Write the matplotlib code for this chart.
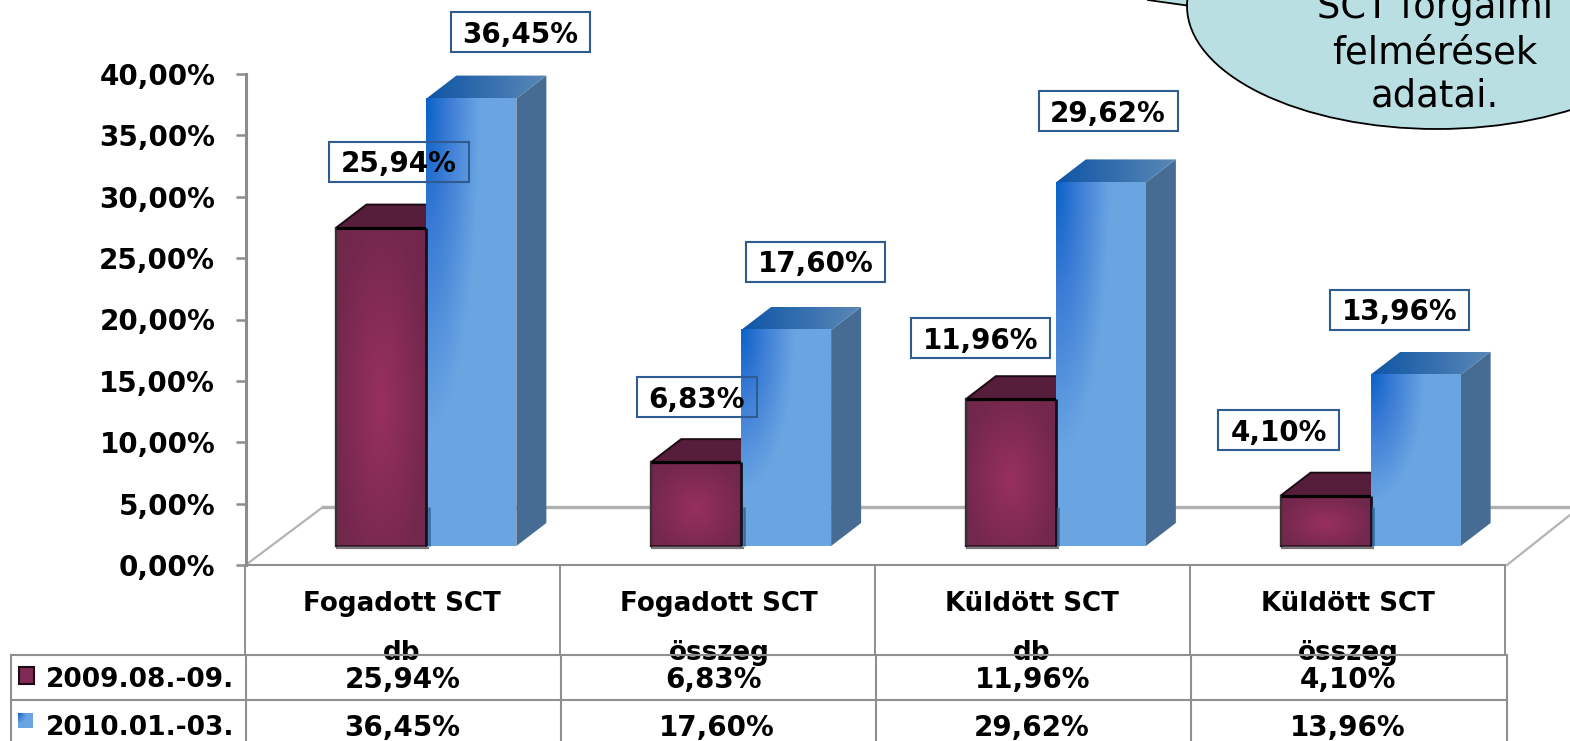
import numpy as np
import matplotlib
matplotlib.use('Agg')
import matplotlib.pyplot as plt
from matplotlib.colors import LinearSegmentedColormap
from matplotlib.patches import Ellipse, Polygon, Rectangle
from matplotlib.transforms import Affine2D

categories_top = ['Fogadott SCT', 'Fogadott SCT', 'Küldött SCT', 'Küldött SCT']
categories_bottom = ['db', 'összeg', 'db', 'összeg']
series_names = ['2009.08.-09.', '2010.01.-03.']
values_2009 = [25.94, 6.83, 11.96, 4.10]
values_2010 = [36.45, 17.60, 29.62, 13.96]
y_ticks = [0, 5, 10, 15, 20, 25, 30, 35, 40]
callout_lines = ['SCT forgalmi', 'felmérések', 'adatai.']

W, H = 1570, 741
FONT = 20

# label box centres, in picture pixels
boxes_2009 = [(399, 161.5), (697, 396.5), (980.5, 338), (1278.5, 430)]
boxes_2010 = [(520.5, 32), (815.5, 261.5), (1108, 111), (1399.5, 309.5)]
box_w_2009 = [140, 120, 139, 121]
box_w_2010 = [139, 139, 139, 139]

blue_front = LinearSegmentedColormap.from_list(
    'bf', [(0, '#0a62c8'), (0.4, '#3a7bd5'), (1, '#6aa5e2')])
blue_top = LinearSegmentedColormap.from_list('bt', ['#0f55a6', '#5a88b6'])
maroon_front = LinearSegmentedColormap.from_list('mf', ['#72274c', '#98305f'])


def fmt(v):
    return f'{v:.2f}%'.replace('.', ',')


def front_image(kind):
    n = 120
    u, v = np.meshgrid(np.linspace(0, 1, n), np.linspace(0, 1, n))
    if kind == 'blue':
        return blue_front, np.clip(np.sqrt((u / 0.6) ** 2 + (v / 0.75) ** 2), 0, 1)
    r = np.sqrt(((u - 0.5) / 0.55) ** 2 + ((v - 0.55) / 0.6) ** 2)
    return maroon_front, np.clip(1 - r, 0, 1)


def draw_bar(ax, left, value, width, kind, z):
    base, dx, dy = BASE, DX, DY
    top = base + value
    right = left + width
    # side
    ax.add_patch(Polygon([(right, base), (right + dx, base + dy),
                          (right + dx, top + dy), (right, top)],
                         fc='#466c94', ec='none', zorder=z))
    # top face
    if kind == 'blue':
        grad = np.linspace(0, 1, 100).reshape(1, -1)
        im = ax.imshow(grad, cmap=blue_top, extent=(left, right + dx, top, top + dy),
                       aspect='auto', zorder=z, origin='lower')
        clip = Polygon([(left, top), (left + dx, top + dy),
                        (right + dx, top + dy), (right, top)],
                       fc='none', ec='none', transform=ax.transData)
        ax.add_patch(clip)
        im.set_clip_path(clip)
    else:
        ax.add_patch(Polygon([(left, top), (left + dx, top + dy),
                              (right + dx, top + dy), (right, top)],
                             fc='#561e3b', ec='none', zorder=z))
        ax.plot([left, left + dx, right + dx], [top, top + dy, top + dy],
                color='#1c0a14', lw=1.4, zorder=z, solid_capstyle='butt')
    # front
    cm, arr = front_image(kind)
    ax.imshow(arr, cmap=cm, extent=(left, right, base, top), aspect='auto',
              zorder=z + 0.1, origin='upper', vmin=0, vmax=1)
    if kind == 'maroon':
        # grey shadow under the bar, then the uneven outline
        ax.plot([left, right + 3 * px_x], [base - 1.5 * px_y, base - 1.5 * px_y],
                color='#7a7a7a', lw=1.6, zorder=z + 0.2, solid_capstyle='butt')
        ax.plot([left, left], [base, top], color='#3a3034', lw=1.7, zorder=z + 0.2)
        ax.plot([left, right], [base, base], color='#2a1020', lw=1.2, zorder=z + 0.2)
        ax.plot([left, right], [top, top], color='black', lw=2.3, zorder=z + 0.3,
                solid_capstyle='butt')


fig = plt.figure(figsize=(W / 100, H / 100), dpi=100)
ax = fig.add_axes([246 / W, (H - 565) / H, 1259 / W, 491 / H])
ax.patch.set_alpha(0)

# depth of the fake 3D look, converted from pixels to data units
px_x = 4 / 1259
px_y = 40 / 491
BASE = 19 * px_y
DX = 30 * px_x
DY = 23 * px_y
bar_w = 90 * px_x
shift = -67 * px_x

# pixel coordinates of the picture, y going down
px = Affine2D().scale(1, -1).translate(0, H)

# floor and back wall
ax.plot([323, W], [506.5, 506.5], color='#b0b0b0', lw=2.4, transform=px, clip_on=False, zorder=1)
ax.plot([247, 323], [564, 507], color='#b4b4b4', lw=1.6, transform=px, clip_on=False, zorder=1)
ax.plot([1507, 1570], [565, 515], color='#b4b4b4', lw=1.6, transform=px, clip_on=False, zorder=1)

# white part of the label boxes sits behind the bars
for (cx, cy), bw in zip(boxes_2009, box_w_2009):
    ax.add_patch(Rectangle((cx - bw / 2, cy - 20), bw, 40, fc='white', ec='none',
                           transform=px, clip_on=False, zorder=1.5))

for i in range(len(values_2009)):
    left = i + shift
    draw_bar(ax, left, values_2009[i], bar_w, 'maroon', 2)
    draw_bar(ax, left + bar_w, values_2010[i], bar_w, 'blue', 3)
    # dark edge where the two bars meet, lighter low down
    edge = left + bar_w
    ax.plot([edge, edge], [BASE, BASE + values_2009[i]], color='#14101c', lw=2, zorder=3.3,
            solid_capstyle='butt')
    ax.plot([edge + 2.5 * px_x] * 2, [BASE, BASE + min(values_2009[i], 3.2)],
            color='#3a6a9e', lw=1.8, zorder=3.3, solid_capstyle='butt')

ax.set_xlim(-0.5, 3.5)
ax.set_ylim(0, 40)

for s in ['top', 'right']:
    ax.spines[s].set_visible(False)
ax.spines['left'].set_color('#8c8c8c')
ax.spines['left'].set_linewidth(2.2)
ax.spines['bottom'].set_color('#8f8f8f')
ax.spines['bottom'].set_linewidth(1.5)
ax.set_xticks([])
ax.set_yticks(y_ticks)
ax.set_yticklabels([fmt(t) for t in y_ticks], fontsize=FONT, fontweight='bold')
ax.tick_params(axis='y', length=7.2, width=1.8, color='#8c8c8c', pad=15)

# labels above the bars
for vals, centres, widths in [(values_2009, boxes_2009, box_w_2009),
                              (values_2010, boxes_2010, box_w_2010)]:
    for v, (cx, cy), bw in zip(vals, centres, widths):
        ax.add_patch(Rectangle((cx - bw / 2, cy - 20), bw, 40, fc='none', ec='#2f5b93',
                               lw=1.5, transform=px, clip_on=False, zorder=6))
        ax.text(cx, cy, fmt(v), fontsize=FONT, fontweight='bold', ha='center',
                va='center_baseline', transform=px, clip_on=False, zorder=7)

# data table under the chart
grey = '#8f8f8f'
for x in [245, 560, 875, 1190, 1505]:
    ax.plot([x, x], [565, 655], color=grey, lw=1.4, transform=px, clip_on=False, zorder=5)
for x in [246, 561, 876, 1191, 1507]:
    ax.plot([x, x], [655, H], color=grey, lw=1.5, transform=px, clip_on=False, zorder=5)
ax.plot([11, 11], [655, H], color=grey, lw=1.5, transform=px, clip_on=False, zorder=5)

centres_x = [402, 719, 1032, 1348]
row1_x = [403, 713.5, 1033, 1348]
row2_x = [402, 717, 1032, 1348]
for i in range(4):
    ax.text(centres_x[i], 601, categories_top[i], fontsize=18.8, fontweight='bold',
            ha='center', va='center_baseline', transform=px, clip_on=False, zorder=4)
    ax.text(centres_x[i], 650, categories_bottom[i], fontsize=18.8, fontweight='bold',
            ha='center', va='center_baseline', transform=px, clip_on=False, zorder=4)
    ax.text(row1_x[i], 677, fmt(values_2009[i]), fontsize=FONT, fontweight='bold',
            ha='center', va='center_baseline', transform=px, clip_on=False, zorder=4)
    ax.text(row2_x[i], 725, fmt(values_2010[i]), fontsize=FONT, fontweight='bold',
            ha='center', va='center_baseline', transform=px, clip_on=False, zorder=4)

ax.plot([11, 1507], [655, 655], color=grey, lw=1.5, transform=px, clip_on=False, zorder=5)
ax.plot([11, 1507], [700, 700], color=grey, lw=1.5, transform=px, clip_on=False, zorder=5)

# legend keys and names inside the table
ax.add_patch(Rectangle((19, 667), 14.5, 17, fc='#7f2a55', ec='#1c0a14', lw=1.5,
                       transform=px, clip_on=False, zorder=5))
cm, arr = front_image('blue')
ax.imshow(arr, cmap=cm, aspect='auto', origin='upper', vmin=0, vmax=1, zorder=5,
          extent=(18, 33, 728, 713), transform=px, clip_on=False)
ax.set_xlim(-0.5, 3.5)
ax.set_ylim(0, 40)
ax.text(46, 677, series_names[0], fontsize=19, fontweight='bold', va='center_baseline',
        transform=px, clip_on=False, zorder=5)
ax.text(46, 725, series_names[1], fontsize=19, fontweight='bold', va='center_baseline',
        transform=px, clip_on=False, zorder=5)

# speech bubble, cut by the picture edge
ax.add_patch(Polygon([(1148, -2), (1187, 6), (1187, -2)], fc='#badfe3', ec='none',
                     transform=px, clip_on=False, zorder=8))
ax.plot([1148, 1187], [0, 5.5], color='black', lw=1.3, transform=px, clip_on=False, zorder=9)
ax.add_patch(Ellipse((1437, 6), 500, 246, fc='#badfe3', ec='black', lw=1.3,
                     transform=px, clip_on=False, zorder=8))
for txt, y in zip(callout_lines, [4, 49, 92]):
    ax.text(1435, y, txt, fontsize=26.6, ha='center', va='center_baseline',
            transform=px, clip_on=False, zorder=9)

fig.savefig('out.png', dpi=100)
